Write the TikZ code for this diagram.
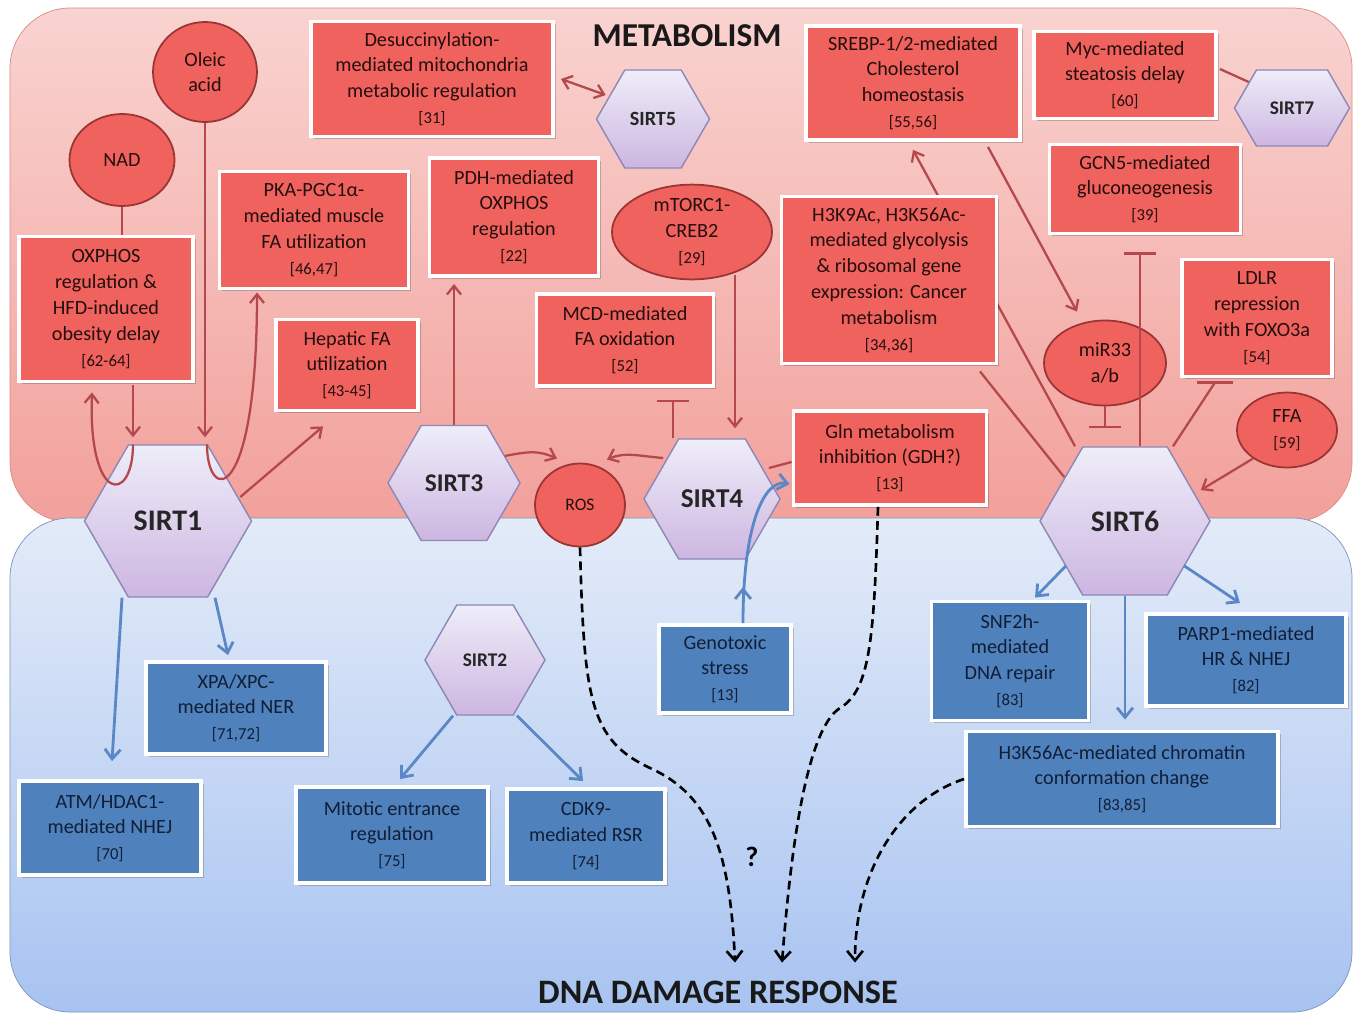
\documentclass[tikz,border=0pt]{standalone}
\usepackage{fontspec}
\setmainfont{Carlito}
\usetikzlibrary{arrows.meta,calc,shapes.geometric,shapes.symbols,shadows}
\pgfdeclarelayer{bg}
\pgfdeclarelayer{wire}
\pgfsetlayers{bg,wire,main}
\definecolor{cred}{HTML}{F0625D}
\definecolor{cbluebox}{HTML}{4F81BD}
\definecolor{ctxtr}{HTML}{240E0E}
\definecolor{ctxtb}{HTML}{111E35}
\definecolor{cellb}{HTML}{9C3434}
\definecolor{cwire}{HTML}{B5484D}
\definecolor{cbwire}{HTML}{5A88C6}
\definecolor{chext}{HTML}{EEEDF9}
\definecolor{chexbot}{HTML}{CDB6E1}
\definecolor{chexd}{HTML}{8C87B6}
\definecolor{cpinkt}{HTML}{F9D3D0}
\definecolor{cpinkb}{HTML}{F2A09B}
\definecolor{cpinkd}{HTML}{D98C88}
\definecolor{cbluet}{HTML}{E3EBF8}
\definecolor{cblueb}{HTML}{A8C3F1}
\definecolor{cblued}{HTML}{7D93BD}
\newcommand{\bxfont}{\fontsize{11.5}{14.7}\selectfont}
\newcommand{\bref}[1]{{\fontsize{9.5}{14.7}\selectfont[#1]}}
\tikzset{
  rbox/.style 2 args={rectangle,fill=cred,draw=white,line width=2.2pt,minimum width=#1*0.02cm,minimum height=#2*0.02cm,align=center,text=ctxtr,font=\bxfont,inner sep=1pt,drop shadow={shadow xshift=1.5pt,shadow yshift=-1.5pt,fill=black,opacity=.2}},
  bbox/.style 2 args={rbox={#1}{#2},fill=cbluebox,text=ctxtb},
  rell/.style 2 args={ellipse,fill=cred,draw=cellb,line width=1pt,minimum width=#1*0.02cm,minimum height=#2*0.02cm,align=center,text=ctxtr,font=\bxfont,inner sep=0pt},
  hexa/.style 2 args={signal,signal to=east and west,signal pointer angle=120,draw=chexd,line width=0.8pt,top color=chext,bottom color=chexbot,minimum width=#1*0.02cm,minimum height=#2*0.02cm,inner sep=0pt,text=black!85},
  title/.style={font=\bfseries\fontsize{19}{22}\selectfont,text=black!90,inner sep=1pt},
  rline/.style={line width=1.3pt,draw=cwire},
  rarr/.style={-{Straight Barb[length=5pt,width=8pt]},line width=1.3pt,draw=cwire},
  rdarr/.style={{Straight Barb[length=5pt,width=8pt]}-{Straight Barb[length=5pt,width=8pt]},line width=1.3pt,draw=cwire},
  rbar/.style={-{Bar[width=18pt]},line width=1.3pt,draw=cwire},
  barr/.style={-{Straight Barb[length=5.5pt,width=9pt]},line width=1.6pt,draw=cbwire},
  darr/.style={-{Straight Barb[length=5.5pt,width=9pt]},line width=1.5pt,dash pattern=on 5pt off 3pt,draw=black},
}
\begin{document}
\begin{tikzpicture}[x=0.02cm,y=-0.02cm]
\useasboundingbox (0,0) rectangle (1358,1015);

% the two regions
\begin{pgfonlayer}{bg}
  \shade[top color=cpinkt,bottom color=cpinkb,draw=cpinkd,rounded corners=1.2cm] (10,8) rectangle (1352,522);
  \shade[top color=cbluet,bottom color=cblueb,draw=cblued,rounded corners=1.2cm] (10,518) rectangle (1352,1012);
\end{pgfonlayer}

\node[title] (meta) at (687,36) {METABOLISM};
\node[title,font=\bfseries\fontsize{19.5}{22}\selectfont] (dna) at (718,992) {DNA DAMAGE RESPONSE};

% sirtuins
\node[hexa={167}{152},font=\bfseries\fontsize{17}{20}\selectfont] (s1) at (168,521) {SIRT1};
\node[hexa={132}{115},font=\bfseries\fontsize{14.5}{17}\selectfont] (s3) at (454,483) {SIRT3};
\node[hexa={136}{120},font=\bfseries\fontsize{15.5}{18}\selectfont] (s4) at (712,499) {SIRT4};
\node[hexa={113}{98},font=\bfseries\fontsize{11.5}{14}\selectfont] (s5) at (653,119) {SIRT5};
\node[hexa={170}{148},font=\bfseries\fontsize{17}{20}\selectfont] (s6) at (1125,521) {SIRT6};
\node[hexa={115}{76},font=\bfseries\fontsize{11}{14}\selectfont] (s7) at (1292,108) {SIRT7};
\node[hexa={120}{110},font=\bfseries\fontsize{11}{14}\selectfont] (s2) at (485,660) {SIRT2};

% metabolism boxes
\node[rbox={242}{115}] (desucc) at (432,79) {Desuccinylation-\\mediated mitochondria\\metabolic regulation\\\bref{31}};
\node[rbox={189}{117}] (pka) at (314,230) {PKA-PGC1α-\\mediated muscle\\FA utilization\\\bref{46,47}};
\node[rbox={174}{145}] (oxphos) at (106,309) {OXPHOS\\regulation \&\\HFD-induced\\obesity delay\\\bref{62-64}};
\node[rbox={142}{91}] (hepatic) at (347,365) {Hepatic FA\\utilization\\\bref{43-45}};
\node[rbox={169}{118}] (pdh) at (514,217) {PDH-mediated\\OXPHOS\\regulation\\\bref{22}};
\node[rbox={177}{92}] (mcd) at (625,340) {MCD-mediated\\FA oxidation\\\bref{52}};
\node[rbox={214}{114}] (srebp) at (913,83) {SREBP-1/2-mediated\\Cholesterol\\homeostasis\\\bref{55,56}};
\node[rbox={182}{87}] (myc) at (1125,75) {Myc-mediated\\steatosis delay\\\bref{60}};
\node[rbox={191}{89}] (gcn5) at (1145,189) {GCN5-mediated\\gluconeogenesis\\\bref{39}};
\node[rbox={215}{167}] (h3k9) at (889,280) {H3K9Ac, H3K56Ac-\\mediated glycolysis\\\& ribosomal gene\\expression: Cancer\\metabolism\\\bref{34,36}};
\node[rbox={150}{117}] (ldlr) at (1257,318) {LDLR\\repression\\with FOXO3a\\\bref{54}};
\node[rbox={193}{94}] (gln) at (890,458) {Gln metabolism\\inhibition (GDH?)\\\bref{13}};

% small molecules
\node[rell={104}{100}] (oleic) at (205,72) {Oleic\\acid};
\node[rell={105}{92}] (nad) at (122,160) {NAD};
\node[rell={160}{82}] (mtorc) at (692,232) {mTORC1-\\CREB2\\\bref{29}};
\node[rell={90}{83},font=\fontsize{10}{12}\selectfont] (ros) at (580,505) {ROS};
\node[rell={122}{85}] (mir) at (1105,363) {miR33\\a/b};
\node[rell={100}{75}] (ffa) at (1287,430) {FFA\\\bref{59}};

% DNA damage boxes
\node[bbox={182}{94}] (atm) at (110,828) {ATM/HDAC1-\\mediated NHEJ\\\bref{70}};
\node[bbox={180}{92}] (xpa) at (236,708) {XPA/XPC-\\mediated NER\\\bref{71,72}};
\node[bbox={192}{96}] (mito) at (392,835) {Mitotic entrance\\regulation\\\bref{75}};
\node[bbox={158}{94}] (cdk9) at (586,836) {CDK9-\\mediated RSR\\\bref{74}};
\node[bbox={132}{88}] (geno) at (725,669) {Genotoxic\\stress\\\bref{13}};
\node[bbox={157}{119}] (snf) at (1010,661) {SNF2h-\\mediated\\DNA repair\\\bref{83}};
\node[bbox={200}{92}] (parp) at (1246,660) {PARP1-mediated\\HR \& NHEJ\\\bref{82}};
\node[bbox={312}{95}] (h3k56) at (1122,779) {H3K56Ac-mediated chromatin\\conformation change\\\bref{83,85}};
\node[font=\bfseries\fontsize{16}{18}\selectfont] (qm) at (752,857) {?};

% SIRT1 links
\draw[rline] (nad.south) -- (nad.south |- oxphos.north);
\draw[rarr] ($(oxphos.south)+(27,2)$) -- ($(s1.north)+(-35,-7)$);
\draw[rarr] ($(s1.north)+(-35,0)$) .. controls +(0,60) and +(-4,112) .. ($(oxphos.south)+(-14,9)$);
\draw[rarr] (oleic.south) -- ($(s1.north)+(37,-7)$);
\draw[rarr] ($(s1.north)+(39,0)$) .. controls +(0,60) and +(0,213) .. ($(pka.south)+(-57,2)$);
\draw[rarr] ($(s1.east)+(-12,-24)$) -- ($(hepatic.south)+(-24,14)$);
% SIRT3, SIRT4, SIRT5
\draw[rarr] (s3.north) -- ($(s3.north |- pdh.south)+(0,6)$);
\draw[rarr] ($(s3.east)+(-16,-27)$) .. controls +(25,-5) and +(-18,-8) .. ($(ros.north)+(-23,-4)$);
\draw[rarr] ($(s4.west)+(20,-41)$) .. controls +(-25,-2) and +(18,-8) .. ($(ros.north)+(27,-3)$);
\draw[rbar] ($(s4.north)+(-39,0)$) -- ($(mcd.south)+(48,12)$);
\draw[rarr] ($(mtorc.south)+(43,-5)$) -- ($(s4.north)+(23,-10)$);
\draw[rline] ($(s4.east)+(-12,-31)$) -- ($(gln.west)+(0,4)$);
\draw[barr] ($(geno.north)+(18,0)$) .. controls +(0,-100) and +(-25,-5) .. ($(gln.west)+(-2,26)$);
\draw[barr] ($(geno.north)+(18,0)$) -- ($(geno.north)+(18,-36)$);
\draw[rdarr] ($(desucc.east)+(6,0)$) -- ($(s5.west)+(10,-24)$);
% SIRT6, SIRT7
\begin{pgfonlayer}{wire}
  \draw[rarr] ($(s6.north)+(-50,0)$) -- ($(srebp.south)+(0,8)$);
\end{pgfonlayer}
\draw[rline] ($(h3k9.south)+(91,6)$) -- ($(s6.west)+(25,-44)$);
\draw[rarr] ($(srebp.south)+(75,5)$) -- ($(mir.north)+(-28,-8)$);
\draw[rbar] (mir.south) -- ($(s6.north)+(-20,-18)$);
\draw[rbar] ($(s6.north)+(15,0)$) -- ($(gcn5.south)+(-5,17)$);
\draw[rline] ($(s6.north)+(48,0)$) -- ($(ldlr.south)+(-42,4)$);
\draw[rline] ($(ldlr.south)+(-60,4)$) -- ($(ldlr.south)+(-24,4)$);
\draw[rarr] (ffa.220) -- ($(s6.east)+(-10,-31)$);
\draw[rline] ($(myc.east)+(2,-6)$) -- ($(s7.west)+(15,-26)$);

% DNA damage side
\draw[barr] ($(s1.south)+(-46,0)$) -- ($(atm.north)+(2,-18)$);
\draw[barr] ($(s1.south)+(47,0)$) -- ($(xpa.north)+(-8,-5)$);
\draw[barr] ($(s2.south)+(-32,0)$) -- ($(mito.north)+(8,-6)$);
\draw[barr] ($(s2.south)+(32,0)$) -- ($(cdk9.north)+(-3,-6)$);
\draw[barr] ($(s6.south)+(-59,-30)$) -- ($(snf.north)+(25,-2)$);
\draw[barr] (s6.south) -- ($(h3k56.north)+(3,-10)$);
\draw[barr] ($(s6.south)+(59,-30)$) -- ($(parp.north)+(-6,-9)$);
\draw[darr] (ros.south) .. controls (584,700) and (590,740) .. (650,768) .. controls (710,795) and (730,850) .. ($(dna.north)+(17,-16)$);
\draw[darr] ($(gln.south)+(-12,0)$) .. controls (874,640) and (870,690) .. (840,708) .. controls (805,730) and (790,860) .. ($(dna.north)+(64,-16)$);
\draw[darr] (h3k56.west) .. controls (900,800) and (855,870) .. ($(dna.north)+(137,-16)$);
\end{tikzpicture}
\end{document}
